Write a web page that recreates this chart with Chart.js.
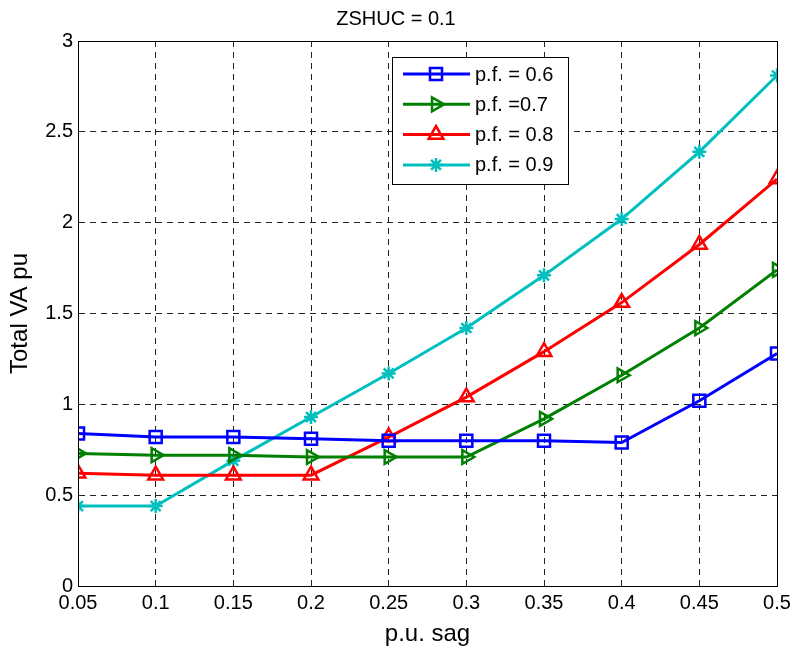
<!DOCTYPE html>
<html>
<head>
<meta charset="utf-8">
<script src="https://cdn.jsdelivr.net/npm/chart.js@4/dist/chart.umd.min.js"></script>
<style>
  html, body { margin: 0; padding: 0; background: #fff; }
  #wrap { width: 792px; height: 654px; }
</style>
</head>
<body>
<div id="wrap"><canvas id="c" width="792" height="654"></canvas></div>
<script>
const sag = [0.05, 0.1, 0.15, 0.2, 0.25, 0.3, 0.35, 0.4, 0.45, 0.5];
const pf06 = [0.84, 0.82, 0.82, 0.81, 0.80, 0.80, 0.80, 0.79, 1.02, 1.28];
const pf07 = [0.73, 0.72, 0.72, 0.71, 0.71, 0.71, 0.92, 1.16, 1.42, 1.74];
const pf08 = [0.62, 0.61, 0.61, 0.61, 0.82, 1.04, 1.29, 1.56, 1.88, 2.24];
const pf09 = [0.44, 0.44, 0.69, 0.93, 1.17, 1.42, 1.71, 2.02, 2.39, 2.81];
const xTicks = [0.05, 0.1, 0.15, 0.2, 0.25, 0.3, 0.35, 0.4, 0.45, 0.5];
const yTicks = [0, 0.5, 1, 1.5, 2, 2.5, 3];
const seriesNames = ['p.f. = 0.6', 'p.f. =0.7', 'p.f. = 0.8', 'p.f. = 0.9'];

const FONT = "'Liberation Sans', Arial, sans-serif";

function series(label, values, color, style, rot, radius) {
  return {
    label,
    data: sag.map((x, i) => ({ x, y: values[i] })),
    borderColor: color,
    backgroundColor: color,
    borderWidth: 3,
    pointStyle: style,
    rotation: rot,
    pointRadius: radius,
    pointHoverRadius: radius,
    pointBorderWidth: 2.5,
    pointBackgroundColor: 'rgba(0,0,0,0)',
    pointBorderColor: color,
    tension: 0
  };
}

// box around plot + legend inside the axes (MATLAB look)
const boxAndLegend = {
  id: 'boxAndLegend',
  afterDatasetsDraw(chart) {
    const { ctx, chartArea: a } = chart;
    ctx.save();
    ctx.strokeStyle = '#000';
    ctx.lineWidth = 1;
    ctx.setLineDash([]);
    ctx.strokeRect(a.left + 0.5, a.top + 0.5, a.right - a.left, a.bottom - a.top);

    const lx = 392, ly = 57, lw = 176, lh = 127;
    ctx.fillStyle = '#fff';
    ctx.fillRect(lx, ly, lw, lh);
    ctx.strokeRect(lx + 0.5, ly + 0.5, lw, lh);
    ctx.font = '20px ' + FONT;
    ctx.textBaseline = 'middle';
    chart.data.datasets.forEach((ds, i) => {
      const y = ly + 17 + i * 30.3;
      ctx.strokeStyle = ds.borderColor;
      ctx.lineWidth = ds.borderWidth;
      ctx.beginPath();
      ctx.moveTo(403, y);
      ctx.lineTo(470, y);
      ctx.stroke();
      ctx.fillStyle = 'rgba(0,0,0,0)';
      ctx.lineWidth = ds.pointBorderWidth;
      Chart.helpers.drawPoint(ctx, {
        pointStyle: ds.pointStyle,
        rotation: ds.rotation,
        radius: ds.pointRadius,
        borderWidth: ds.pointBorderWidth
      }, 436, y);
      ctx.fillStyle = '#000';
      ctx.fillText(ds.label, 475, y + 1);
    });
    ctx.restore();
  }
};

new Chart(document.getElementById('c'), {
  type: 'line',
  data: {
    datasets: [
      series(seriesNames[0], pf06, '#0000ff', 'rect', 0, 8.5),
      series(seriesNames[1], pf07, '#008000', 'triangle', 90, 8),
      series(seriesNames[2], pf08, '#ff0000', 'triangle', 0, 8.5),
      series(seriesNames[3], pf09, '#00bfbf', 'star', 0, 7)
    ]
  },
  options: {
    responsive: false,
    animation: false,
    layout: { padding: { left: 0, right: 0, top: 0, bottom: 0 } },
    plugins: {
      legend: { display: false },
      tooltip: { enabled: false },
      title: {
        display: true,
        text: 'ZSHUC = 0.1',
        color: '#000',
        font: { family: FONT, size: 20, weight: 'normal' },
        padding: { top: 7, bottom: 10 }
      }
    },
    scales: {
      x: {
        type: 'linear',
        min: 0.05,
        max: 0.5,
        afterBuildTicks: s => { s.ticks = xTicks.map(v => ({ value: v })); },
        afterFit: s => { s.height = 68; s.paddingRight = 15; },
        ticks: {
          color: '#000',
          font: { family: FONT, size: 20 },
          maxRotation: 0,
          padding: 5,
          callback: v => String(+v.toFixed(2))
        },
        grid: { color: '#222', lineWidth: 1, drawTicks: false },
        border: { display: true, color: '#000', dash: [6, 5] },
        title: {
          display: true,
          text: 'p.u. sag',
          color: '#000',
          font: { family: FONT, size: 24 },
          padding: { top: 0, bottom: 5 }
        }
      },
      y: {
        min: 0,
        max: 3,
        afterBuildTicks: s => { s.ticks = yTicks.map(v => ({ value: v })); },
        afterFit: s => { s.width = 78; },
        ticks: {
          color: '#000',
          font: { family: FONT, size: 20 },
          padding: 5,
          callback: v => String(v)
        },
        grid: { color: '#222', lineWidth: 1, drawTicks: false },
        border: { display: true, color: '#000', dash: [6, 5] },
        title: {
          display: true,
          text: 'Total VA pu',
          color: '#000',
          font: { family: FONT, size: 24 },
          padding: { top: 6, bottom: 0 }
        }
      }
    }
  },
  plugins: [boxAndLegend]
});
</script>
</body>
</html>
